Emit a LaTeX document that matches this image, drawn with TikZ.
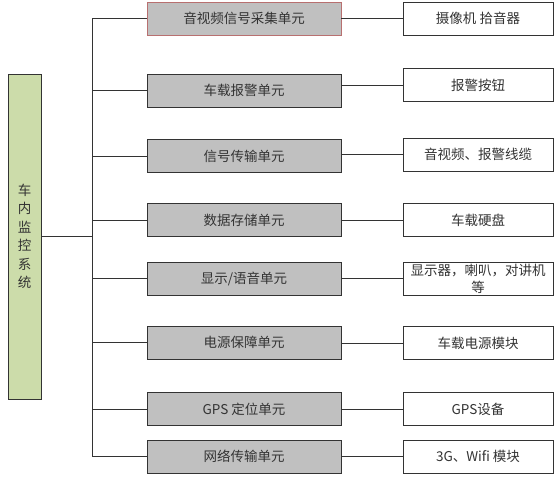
\documentclass[tikz,border=0pt]{standalone}
\usepackage{fontspec}
\setmainfont{Noto Sans CJK SC}
\usepackage{tikz}
\usetikzlibrary{positioning,calc}

\definecolor{unitgray}{HTML}{C0C0C0}
\definecolor{sysgreen}{HTML}{CCDCAA}
\definecolor{firstred}{HTML}{B87070}
\definecolor{linegray}{HTML}{333333}

\tikzset{
  unit/.style={draw=linegray, fill=unitgray, line width=0.8pt, minimum width=194pt, minimum height=33pt, inner sep=0pt, text=black!80},
  device/.style={draw=linegray, fill=white, line width=0.8pt, minimum width=150pt, minimum height=33pt, inner sep=0pt, text=black!80},
  wire/.style={draw=linegray, line width=0.8pt}
}

\begin{document}
\begin{tikzpicture}[x=1pt,y=-1pt,font=\fontsize{13.5}{18.5}\selectfont]
    \useasboundingbox (0,0) rectangle (558,477);

    % System
    \node[draw=linegray, fill=sysgreen, line width=0.8pt, minimum width=33pt, minimum height=325pt, inner sep=0pt, align=center, text=black!80] (sys) at (24.5,236.5) {车\\内\\监\\控\\系\\统};

    % Units
    \node[unit, draw=firstred] (u1) at (244,18.5) {音视频信号采集单元};
    \node[unit] (u2) at (244,90.5) {车载报警单元};
    \node[unit] (u3) at (244,156) {信号传输单元};
    \node[unit] (u4) at (244,220) {数据存储单元};
    \node[unit] (u5) at (244,278.5) {显示/语音单元};
    \node[unit] (u6) at (244,342.5) {电源保障单元};
    \node[unit] (u7) at (244,409) {GPS 定位单元};
    \node[unit] (u8) at (244,456.5) {网络传输单元};

    % Devices
    \node[device] (d1) at (478,18.5) {摄像机 拾音器};
    \node[device] (d2) at (478,85) {报警按钮};
    \node[device] (d3) at (478,154.5) {音视频、报警线缆};
    \node[device] (d4) at (478,220) {车载硬盘};
    \node[device, align=center, font=\fontsize{13.5}{17}\selectfont] (d5) at (478,278.5) {显示器，喇叭，对讲机\\等};
    \node[device] (d6) at (478,343) {车载电源模块};
    \node[device] (d7) at (478,409) {GPS设备};
    \node[device] (d8) at (478,456.5) {3G、Wifi 模块};

    % Trunk
    \coordinate (top) at (92,18.5);
    \coordinate (bottom) at (92,456.5);
    \draw[wire] (top) -- (bottom);
    \draw[wire] (sys.east) -- (sys.east -| top);
    \draw[wire] (top) -- (u1.west);
    \draw[wire] (u2.west -| top) -- (u2.west);
    \draw[wire] (u3.west -| top) -- (u3.west);
    \draw[wire] (u4.west -| top) -- (u4.west);
    \draw[wire] (u5.west -| top) -- (u5.west);
    \draw[wire] (u6.west -| top) -- (u6.west);
    \draw[wire] (u7.west -| top) -- (u7.west);
    \draw[wire] (bottom) -- (u8.west);

    % Unit to device
    \draw[wire] (u1.east) -- (d1.west);
    \draw[wire] (u2.east |- d2.west) -- (d2.west);
    \draw[wire] (u3.east |- d3.west) -- (d3.west);
    \draw[wire] (u4.east) -- (d4.west);
    \draw[wire] (u5.east) -- (d5.west);
    \draw[wire] (u6.east |- d6.west) -- (d6.west);
    \draw[wire] (u7.east) -- (d7.west);
    \draw[wire] (u8.east) -- (d8.west);
\end{tikzpicture}
\end{document}
